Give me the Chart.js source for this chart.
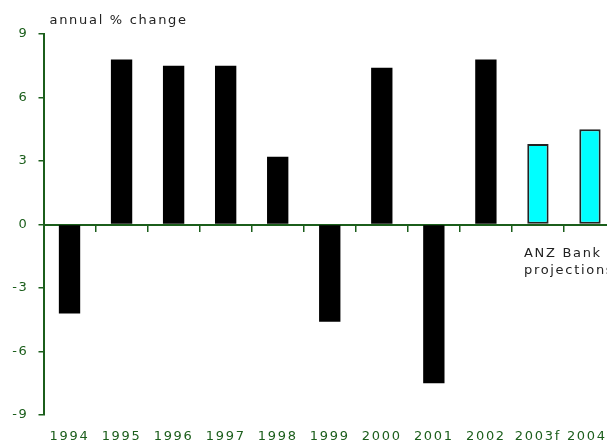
<!DOCTYPE html>
<html>
<head>
<meta charset="utf-8">
<script src="https://cdn.jsdelivr.net/npm/chart.js@4"></script>
<style>
  html, body { margin: 0; padding: 0; background: #fff; overflow: hidden; }
  .chart-box { width: 616px; height: 444px; }
</style>
</head>
<body>
<div class="chart-box"><canvas id="growthChart"></canvas></div>
<script>
"use strict";

// data
const years = ["1994", "1995", "1996", "1997", "1998", "1999", "2000", "2001", "2002", "2003f", "2004f"];
const growth = [-4.2, 7.8, 7.5, 7.5, 3.2, -4.6, 7.4, -7.5, 7.8, 3.8, 4.5];
const projected = [false, false, false, false, false, false, false, false, false, true, true];
const yTicks = [-9, -6, -3, 0, 3, 6, 9];
const unitLabel = "annual % change";
const noteLines = ["ANZ Bank", "projections"];

const green = "#1b5e1b";
const fontFamily = "'DejaVu Sans', Verdana, sans-serif";
const fontSize = 13;
const stretch = "1.7px"; // text in the original looks stretched sideways

// canvas state is reset on resize, so put the spacing back before layout and draw
const letterSpacing = {
  id: "letterSpacing",
  beforeLayout(chart) {
    chart.ctx.letterSpacing = stretch;
  },
  beforeDraw(chart) {
    chart.ctx.letterSpacing = stretch;
  },
};

// unit label top left + the note under the projected bars
const notes = {
  id: "notes",
  afterDraw(chart) {
    const { ctx, chartArea, scales } = chart;
    ctx.save();
    ctx.letterSpacing = stretch;
    ctx.font = `${fontSize}px ${fontFamily}`;
    ctx.fillStyle = "#222";
    ctx.textBaseline = "middle";
    ctx.fillText(unitLabel, chartArea.left + 6, chartArea.top - 13);

    const x = scales.x.getPixelForValue(9) - 14;
    const zero = scales.y.getPixelForValue(0);
    noteLines.forEach((line, i) => {
      ctx.fillText(line, x, zero + 29 + i * 17);
    });
    ctx.restore();
  },
};

const config = {
  type: "bar",
  data: {
    labels: years,
    datasets: [
      {
        data: growth,
        backgroundColor: projected.map((p) => (p ? "#00ffff" : "#000000")),
        borderColor: "#222222",
        borderWidth: projected.map((p) => (p ? 2 : 0)),
        borderSkipped: false,
        barPercentage: 0.41,
        categoryPercentage: 1,
      },
    ],
  },
  options: {
    responsive: true,
    maintainAspectRatio: false,
    animation: false,
    layout: { padding: { top: 34, right: 0, bottom: 0, left: 0 } },
    plugins: {
      legend: { display: false },
      tooltip: { enabled: false },
    },
    scales: {
      x: {
        offset: true,
        grid: { display: false, drawTicks: false },
        border: { display: false },
        ticks: {
          color: green,
          font: { family: fontFamily, size: fontSize },
          padding: 14,
          maxRotation: 0,
          autoSkip: false,
        },
        afterFit(scale) {
          scale.height = 29;
          scale.paddingLeft = 0;
          scale.paddingRight = 0;
        },
      },
      // zero line with its tick marks, no labels
      xZero: {
        type: "category",
        labels: years,
        position: { y: 0 },
        offset: true,
        grid: {
          offset: true,
          drawOnChartArea: false,
          drawTicks: true,
          tickLength: 6,
          color: green,
          lineWidth: 1.5,
        },
        border: { color: green, width: 2 },
        ticks: { display: false },
        afterFit(scale) {
          scale.height = 0;
          scale.paddingLeft = 0;
          scale.paddingRight = 0;
        },
      },
      y: {
        min: -9,
        max: 9,
        afterBuildTicks(scale) {
          scale.ticks = yTicks.map((v) => ({ value: v }));
        },
        afterFit(scale) {
          scale.width = 43.5;
        },
        grid: {
          drawOnChartArea: false,
          drawTicks: true,
          tickLength: 5,
          color: green,
          lineWidth: 1.5,
        },
        border: { color: green, width: 2 },
        ticks: {
          color: green,
          font: { family: fontFamily, size: fontSize },
          padding: 10,
        },
      },
    },
  },
  plugins: [letterSpacing, notes],
};

new Chart(document.getElementById("growthChart"), config);
</script>
</body>
</html>
